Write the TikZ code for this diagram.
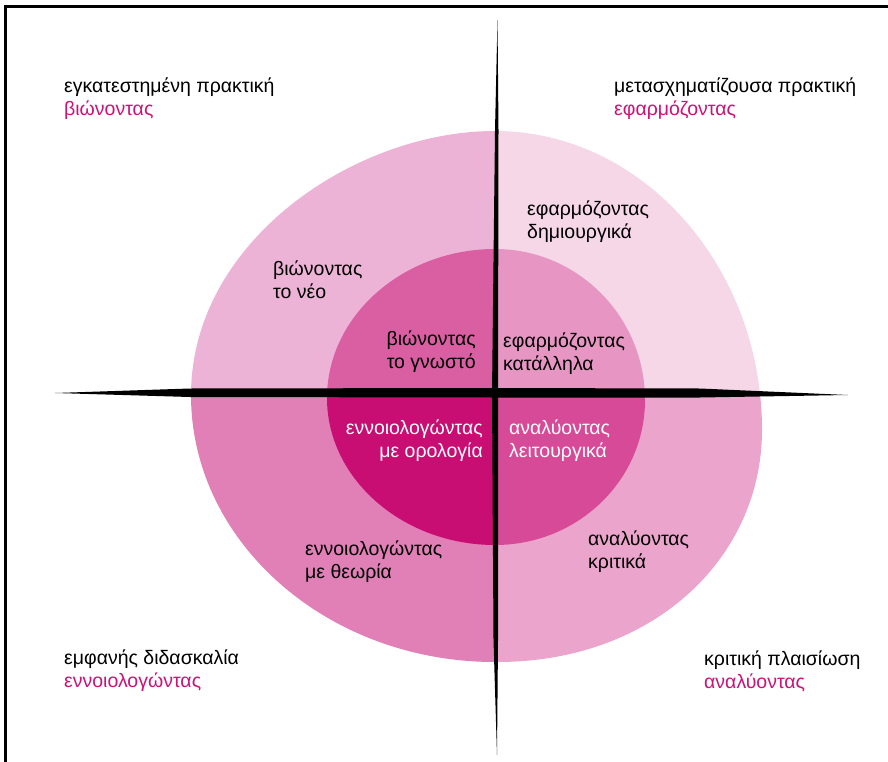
\documentclass[tikz,border=0pt]{standalone}
\usepackage{fontspec}
\setmainfont{Liberation Sans}
\usepackage{xcolor}
\definecolor{magtext}{HTML}{CC1177}
\definecolor{outTL}{HTML}{EDB3D6}
\definecolor{outTR}{HTML}{F5D7E8}
\definecolor{outBL}{HTML}{E17FB7}
\definecolor{outBR}{HTML}{EBA5CC}
\definecolor{inTL}{HTML}{D95FA2}
\definecolor{inTR}{HTML}{E796C3}
\definecolor{inBL}{HTML}{C80D73}
\definecolor{inBR}{HTML}{D64A97}

\def\outerblob{(495,131) .. controls (354,131) and (191,242) .. (191,395)
  .. controls (191,542) and (327,662) .. (495,662)
  .. controls (653,663) and (762,558) .. (762,430)
  .. controls (762,266) and (642,131) .. (495,131) -- cycle}
\def\innerblob{(495,249) .. controls (403,249) and (327,316) .. (327,398)
  .. controls (327,479) and (403,545) .. (495,545)
  .. controls (578,545) and (645,480) .. (645,400)
  .. controls (645,317) and (578,249) .. (495,249) -- cycle}

\begin{document}
\begin{tikzpicture}[x=1pt,y=-1pt,
  lbl/.style={inner sep=0pt, font=\fontsize{19.5}{23}\selectfont, align=left, anchor=west},
  lblr/.style={lbl, align=right, anchor=east},
  wht/.style={text=white}]
  \useasboundingbox (0,0) rectangle (888,762);
  % frame
  \draw[line width=3pt] (5,762) -- (5,7) -- (888,7);
  % rings, one colour per quarter
  \begin{scope}
    \clip (0,0) rectangle (495,393);
    \fill[outTL] \outerblob;
    \fill[inTL] \innerblob;
  \end{scope}
  \begin{scope}
    \clip (495,0) rectangle (888,393);
    \fill[outTR] \outerblob;
    \fill[inTR] \innerblob;
  \end{scope}
  \begin{scope}
    \clip (0,393) rectangle (495,762);
    \fill[outBL] \outerblob;
    \fill[inBL] \innerblob;
  \end{scope}
  \begin{scope}
    \clip (495,393) rectangle (888,762);
    \fill[outBR] \outerblob;
    \fill[inBR] \innerblob;
  \end{scope}
  % axes
  \fill (55,393) -- (190,388.5) -- (493,388) -- (700,388.5) -- (848,395) -- (700,397.5) -- (493,397.5) -- (190,397) -- cycle;
  \fill (497.5,20) -- (498.5,130) -- (498,393) -- (498,640) -- (497,755) -- (493.5,640) -- (492,393) -- (495,130) -- cycle;
  % corner labels
  \node[lbl] (tl) at (64,98.5) {εγκατεστημένη πρακτική\\\textcolor{magtext}{βιώνοντας}};
  \node[lbl] (tr) at (614,98.5) {μετασχηματίζουσα πρακτική\\\textcolor{magtext}{εφαρμόζοντας}};
  \node[lbl] (bl) at (64,671) {εμφανής διδασκαλία\\\textcolor{magtext}{εννοιολογώντας}};
  \node[lbl] (br) at (704,671) {κριτική πλαισίωση\\\textcolor{magtext}{αναλύοντας}};
  % outer ring
  \node[lbl] (neo) at (273,279.5) {βιώνοντας\\το νέο};
  \node[lbl] (dim) at (527,221.5) {εφαρμόζοντας\\δημιουργικά};
  \node[lbl] (the) at (305,561.5) {εννοιολογώντας\\με θεωρία};
  \node[lbl] (kri) at (588,551.5) {αναλύοντας\\κριτικά};
  % inner ring
  \node[lblr] (gno) at (476,351.5) {βιώνοντας\\το γνωστό};
  \node[lbl] (kat) at (503,353.5) {εφαρμόζοντας\\κατάλληλα};
  \node[lblr, wht] (oro) at (483,441) {εννοιολογώντας\\με ορολογία};
  \node[lbl, wht] (lei) at (509,441) {αναλύοντας\\λειτουργικά};
\end{tikzpicture}
\end{document}
